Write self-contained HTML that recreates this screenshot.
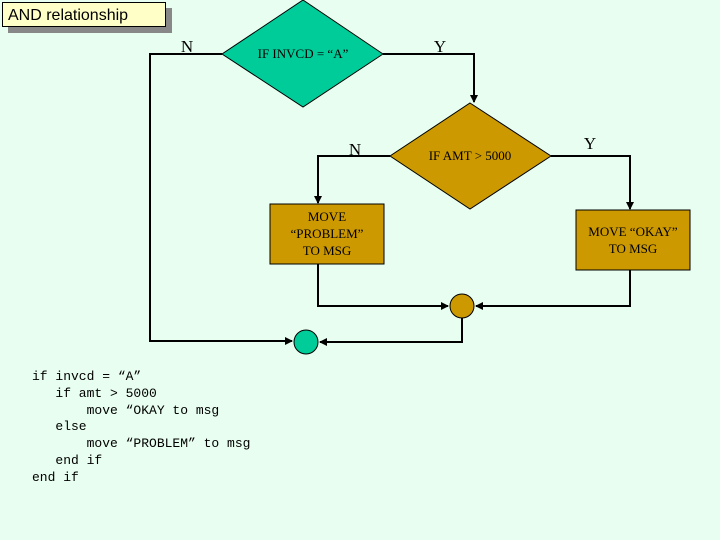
<!DOCTYPE html>
<html><head><style>
body{margin:0;width:720px;height:540px;background:#e8fef0;overflow:hidden;position:relative;font-family:"Liberation Serif",serif}
.t{position:absolute;left:2px;top:2px;width:164px;height:25px;background:#ffffc8;border:1px solid #000;box-shadow:6px 6px 0 #888;font:16px "Liberation Sans",sans-serif;line-height:25px;padding-left:5px;box-sizing:border-box}
pre{position:absolute;left:32px;top:369px;margin:0;font:13px/16.8px "Liberation Mono",monospace;color:#000}
</style></head><body>
<div class="t">AND relationship</div>
<svg width="720" height="540" style="position:absolute;left:0;top:0">
<defs><marker id="a" markerWidth="8" markerHeight="8" refX="7" refY="4" orient="auto" markerUnits="userSpaceOnUse"><path d="M0,0L8,4L0,8z" fill="#000"/></marker></defs>
<g stroke="#000" stroke-width="2" fill="none">
<polyline points="222,54 150,54 150,341 292,341" marker-end="url(#a)"/>
<polyline points="383,54 474,54 474,102" marker-end="url(#a)"/>
<polyline points="390,156 318,156 318,203" marker-end="url(#a)"/>
<polyline points="551,156 630,156 630,209" marker-end="url(#a)"/>
<polyline points="318,264 318,306 448,306" marker-end="url(#a)"/>
<polyline points="630,270 630,306 476,306" marker-end="url(#a)"/>
<polyline points="462,318 462,342 320,342" marker-end="url(#a)"/>
</g>
<polygon points="303,0 383,54 303,107 222,54" fill="#00cc99" stroke="#000"/>
<polygon points="470,103 551,156 470,209 390,156" fill="#cc9900" stroke="#000"/>
<rect x="270" y="204" width="114" height="60" fill="#cc9900" stroke="#000"/>
<rect x="576" y="210" width="114" height="60" fill="#cc9900" stroke="#000"/>
<circle cx="462" cy="306" r="12" fill="#cc9900" stroke="#000"/>
<circle cx="306" cy="342" r="12" fill="#00cc99" stroke="#000"/>
<g font-family="Liberation Serif,serif" fill="#000">
<text x="303" y="58" font-size="13" text-anchor="middle">IF INVCD = “A”</text>
<text x="470" y="160" font-size="13" text-anchor="middle">IF AMT &gt; 5000</text>
<text x="327" y="221" font-size="13" text-anchor="middle">MOVE</text>
<text x="327" y="238" font-size="13" text-anchor="middle">“PROBLEM”</text>
<text x="327" y="255" font-size="13" text-anchor="middle">TO MSG</text>
<text x="633" y="236" font-size="13" text-anchor="middle">MOVE “OKAY”</text>
<text x="633" y="253" font-size="13" text-anchor="middle">TO MSG</text>
<text x="187" y="52" font-size="17" text-anchor="middle">N</text>
<text x="440" y="52" font-size="17" text-anchor="middle">Y</text>
<text x="355" y="155" font-size="17" text-anchor="middle">N</text>
<text x="590" y="149" font-size="17" text-anchor="middle">Y</text>
</g>
</svg>
<pre>if invcd = “A”
   if amt &gt; 5000
       move “OKAY to msg
   else
       move “PROBLEM” to msg
   end if
end if</pre>
</body></html>
